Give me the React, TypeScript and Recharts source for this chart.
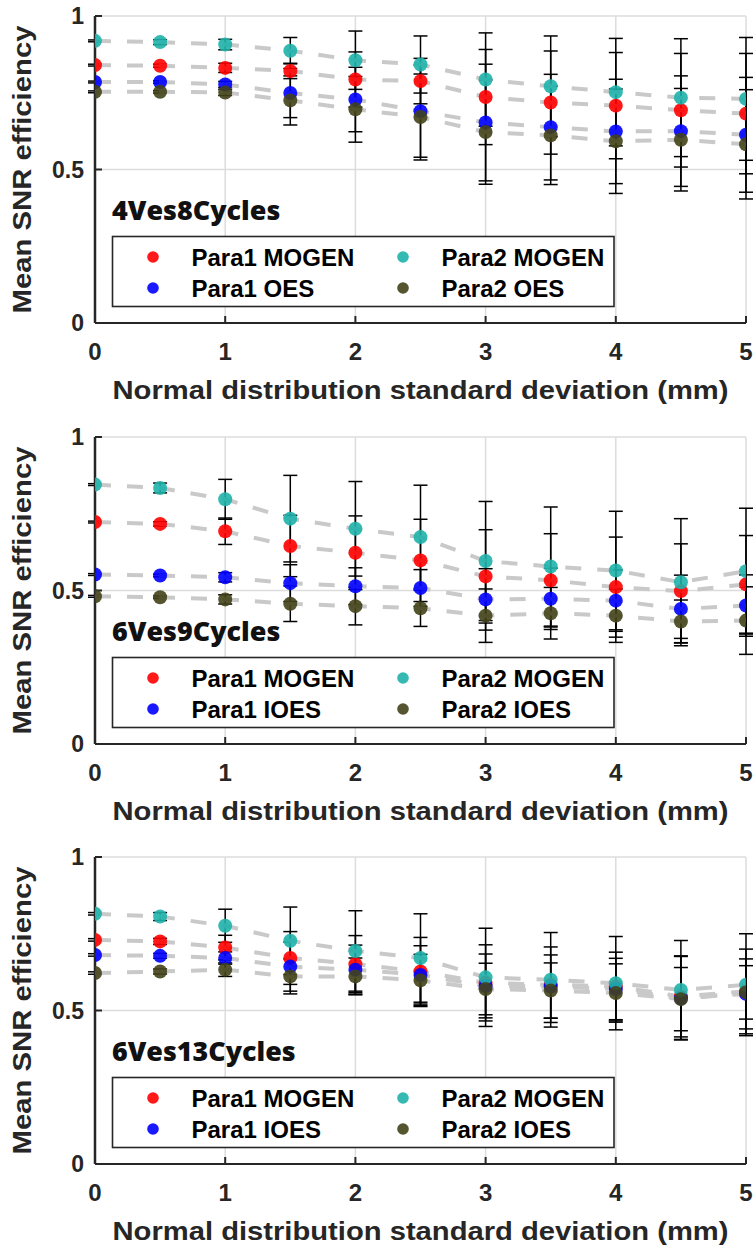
import React from "react";
import { ScatterChart, Scatter, XAxis, YAxis, CartesianGrid, ErrorBar, Legend } from "recharts";

// x positions (mm)
const xs = [0, 0.5, 1, 1.5, 2, 2.5, 3, 3.5, 4, 4.5, 5];
const xTicks = [0, 1, 2, 3, 4, 5];
const yTicks = [0, 0.5, 1];

const titles = ["4Ves8Cycles", "6Ves9Cycles", "6Ves13Cycles"];
const names1 = ["Para1 MOGEN", "Para2 MOGEN", "Para1 OES", "Para2 OES"];
const names23 = ["Para1 MOGEN", "Para2 MOGEN", "Para1 IOES", "Para2 IOES"];

// panel 1: 4Ves8Cycles
const p1Para1Mogen = [0.84, 0.838, 0.831, 0.821, 0.793, 0.788, 0.736, 0.718, 0.708, 0.693, 0.682];
const p1Para2Mogen = [0.919, 0.915, 0.907, 0.887, 0.856, 0.842, 0.793, 0.771, 0.752, 0.734, 0.73];
const p1Para1Oes = [0.785, 0.785, 0.777, 0.749, 0.728, 0.69, 0.653, 0.638, 0.624, 0.625, 0.613];
const p1Para2Oes = [0.753, 0.753, 0.751, 0.725, 0.696, 0.671, 0.622, 0.611, 0.592, 0.597, 0.582];
const p1Para1MogenErr = [0.003, 0.005, 0.015, 0.025, 0.09, 0.074, 0.155, 0.168, 0.173, 0.185, 0.196];
const p1Para2MogenErr = [0.003, 0.008, 0.017, 0.043, 0.095, 0.093, 0.152, 0.164, 0.175, 0.192, 0.2];
const p1Para1OesErr = [0.003, 0.004, 0.01, 0.08, 0.105, 0.15, 0.19, 0.172, 0.17, 0.18, 0.187];
const p1Para2OesErr = [0.003, 0.004, 0.01, 0.08, 0.107, 0.14, 0.17, 0.16, 0.17, 0.167, 0.178];

// panel 2: 6Ves9Cycles
const p2Para1Mogen = [0.723, 0.717, 0.693, 0.645, 0.623, 0.598, 0.546, 0.533, 0.511, 0.498, 0.52];
const p2Para2Mogen = [0.845, 0.834, 0.797, 0.734, 0.701, 0.674, 0.596, 0.578, 0.565, 0.527, 0.563];
const p2Para1Ioes = [0.552, 0.549, 0.543, 0.524, 0.514, 0.508, 0.471, 0.473, 0.467, 0.44, 0.451];
const p2Para2Ioes = [0.481, 0.478, 0.471, 0.457, 0.449, 0.442, 0.418, 0.426, 0.418, 0.399, 0.402];
const p2Para1MogenErr = [0.003, 0.007, 0.043, 0.1, 0.12, 0.134, 0.152, 0.152, 0.163, 0.154, 0.159];
const p2Para2MogenErr = [0.003, 0.016, 0.065, 0.141, 0.154, 0.169, 0.194, 0.194, 0.193, 0.207, 0.205];
const p2Para1IoesErr = [0.003, 0.004, 0.015, 0.06, 0.06, 0.06, 0.1, 0.1, 0.1, 0.11, 0.1];
const p2Para2IoesErr = [0.003, 0.004, 0.015, 0.058, 0.061, 0.059, 0.087, 0.084, 0.087, 0.07, 0.11];

// panel 3: 6Ves13Cycles
const p3Para1Mogen = [0.73, 0.725, 0.705, 0.671, 0.651, 0.627, 0.59, 0.584, 0.578, 0.546, 0.562];
const p3Para2Mogen = [0.815, 0.806, 0.776, 0.727, 0.694, 0.671, 0.608, 0.6, 0.589, 0.567, 0.584];
const p3Para1Ioes = [0.681, 0.678, 0.671, 0.643, 0.633, 0.616, 0.58, 0.578, 0.57, 0.54, 0.554];
const p3Para2Ioes = [0.622, 0.627, 0.633, 0.611, 0.611, 0.598, 0.57, 0.565, 0.557, 0.537, 0.559];
const p3Para1MogenErr = [0.004, 0.01, 0.04, 0.086, 0.093, 0.111, 0.124, 0.123, 0.112, 0.132, 0.138];
const p3Para2MogenErr = [0.004, 0.013, 0.054, 0.11, 0.131, 0.144, 0.16, 0.154, 0.152, 0.161, 0.166];
const p3Para1IoesErr = [0.004, 0.008, 0.02, 0.08, 0.08, 0.095, 0.104, 0.103, 0.1, 0.136, 0.114];
const p3Para2IoesErr = [0.004, 0.008, 0.022, 0.057, 0.06, 0.085, 0.084, 0.09, 0.095, 0.103, 0.087];

// red, cyan, blue, olive
const colors = ["#ff0000", "#1fb2ab", "#0000ff", "#434319"];
const drawOrder = [0, 2, 1, 3];

const toPoints = (vals: number[], errs: number[]) =>
  xs.map((x, i) => ({ x, y: vals[i], e: errs[i] }));

const panels = [
  {
    title: titles[0],
    names: names1,
    series: [
      toPoints(p1Para1Mogen, p1Para1MogenErr),
      toPoints(p1Para2Mogen, p1Para2MogenErr),
      toPoints(p1Para1Oes, p1Para1OesErr),
      toPoints(p1Para2Oes, p1Para2OesErr),
    ],
  },
  {
    title: titles[1],
    names: names23,
    series: [
      toPoints(p2Para1Mogen, p2Para1MogenErr),
      toPoints(p2Para2Mogen, p2Para2MogenErr),
      toPoints(p2Para1Ioes, p2Para1IoesErr),
      toPoints(p2Para2Ioes, p2Para2IoesErr),
    ],
  },
  {
    title: titles[2],
    names: names23,
    series: [
      toPoints(p3Para1Mogen, p3Para1MogenErr),
      toPoints(p3Para2Mogen, p3Para2MogenErr),
      toPoints(p3Para1Ioes, p3Para1IoesErr),
      toPoints(p3Para2Ioes, p3Para2IoesErr),
    ],
  },
];

const FONT = "'Liberation Sans', Arial, sans-serif";
const INK = "#262626";

const Empty = () => <g />;

const dot = (color: string) => (p: any) =>
  <circle cx={p.cx} cy={p.cy} r={7} fill={color} fillOpacity={0.9} />;

function PanelKey({ title, names }: { title: string; names: string[] }) {
  const cols = [153, 403];
  const rows = [257, 288];
  return (
    <svg width={755} height={420} style={{ display: "block" }}>
      <text
        x={112}
        y={220}
        fontFamily="'Open Sans', sans-serif"
        fontWeight={800}
        fontSize={27}
        fill="#111"
        textLength={title.length * 15.3}
        lengthAdjust="spacingAndGlyphs"
      >
        {title}
      </text>
      <rect x={112.5} y={236.5} width={501.5} height={70} fill="#fff" stroke={INK} strokeWidth={1.6} />
      {names.map((name, i) => {
        const cx = cols[i % 2];
        const cy = rows[Math.floor(i / 2)];
        return (
          <g key={name}>
            <circle cx={cx} cy={cy} r={5.8} fill={colors[i]} fillOpacity={0.9} />
            <text x={cx + 38.5} y={cy + 8.6} fontFamily={FONT} fontWeight={700} fontSize={24} fill="#000">
              {name}
            </text>
          </g>
        );
      })}
    </svg>
  );
}

function Panel({ idx }: { idx: number }) {
  const panel = panels[idx];
  return (
    <ScatterChart width={755} height={420} margin={{ top: 16, right: 9, bottom: 0, left: 0 }}>
      <CartesianGrid stroke="#dcdcdc" strokeWidth={1.5} />
      <XAxis
        type="number"
        dataKey="x"
        domain={[0, 5]}
        ticks={xTicks}
        interval={0}
        allowDataOverflow
        height={97}
        stroke={INK}
        strokeWidth={2}
        tickSize={-7}
        tickMargin={27}
        tickLine={{ stroke: INK, strokeWidth: 2 }}
        tick={{ fontFamily: FONT, fontWeight: 700, fontSize: 24, fill: INK }}
        label={{
          content: (props: any) => {
            const vb = props.viewBox;
            return (
              <text
                x={vb.x + vb.width / 2}
                y={vb.y + 76}
                textAnchor="middle"
                fontFamily={FONT}
                fontWeight={700}
                fontSize={26.5}
                fill={INK}
                textLength={616}
                lengthAdjust="spacingAndGlyphs"
              >
                Normal distribution standard deviation (mm)
              </text>
            );
          },
        }}
      />
      <YAxis
        type="number"
        dataKey="y"
        domain={[0, 1]}
        ticks={yTicks}
        interval={0}
        allowDataOverflow
        width={95}
        stroke={INK}
        strokeWidth={2.5}
        tickSize={-7}
        tickMargin={18}
        tickLine={{ stroke: INK, strokeWidth: 2 }}
        tick={{ fontFamily: FONT, fontWeight: 700, fontSize: 23, fill: INK }}
        label={{
          content: (props: any) => {
            const vb = props.viewBox;
            const cy = vb.y + vb.height / 2;
            return (
              <text
                x={31}
                y={cy}
                transform={`rotate(-90 31 ${cy})`}
                textAnchor="middle"
                fontFamily={FONT}
                fontWeight={700}
                fontSize={26.5}
                fill={INK}
                textLength={288}
                lengthAdjust="spacingAndGlyphs"
              >
                Mean SNR efficiency
              </text>
            );
          },
        }}
      />
      <Legend
        layout="horizontal"
        verticalAlign="middle"
        align="center"
        wrapperStyle={{ left: 0, top: 0, width: 755, height: 420, pointerEvents: "none" }}
        content={() => <PanelKey title={panel.title} names={panel.names} />}
      />
      {drawOrder.map((s) => (
        <Scatter
          key={`line-${s}`}
          data={panel.series[s]}
          line={{ stroke: "#c9c9c9", strokeWidth: 4, strokeDasharray: "16 16" }}
          shape={Empty}
          isAnimationActive={false}
        />
      ))}
      {drawOrder.map((s) => (
        <Scatter
          key={`dot-${s}`}
          data={panel.series[s]}
          shape={dot(colors[s])}
          isAnimationActive={false}
        />
      ))}
      {drawOrder.map((s) => (
        <Scatter key={`err-${s}`} data={panel.series[s]} shape={Empty} isAnimationActive={false}>
          <ErrorBar dataKey="e" direction="y" width={7} stroke="#000" strokeWidth={1.5} isAnimationActive={false} />
        </Scatter>
      ))}
    </ScatterChart>
  );
}

export default function App() {
  const tops = [0, 420.5, 841];
  return (
    <div style={{ position: "absolute", left: 0, top: 0, width: 755, height: 1249, background: "#fff" }}>
      {tops.map((t, i) => (
        <div key={i} style={{ position: "absolute", left: 0, top: t }}>
          <Panel idx={i} />
        </div>
      ))}
    </div>
  );
}
